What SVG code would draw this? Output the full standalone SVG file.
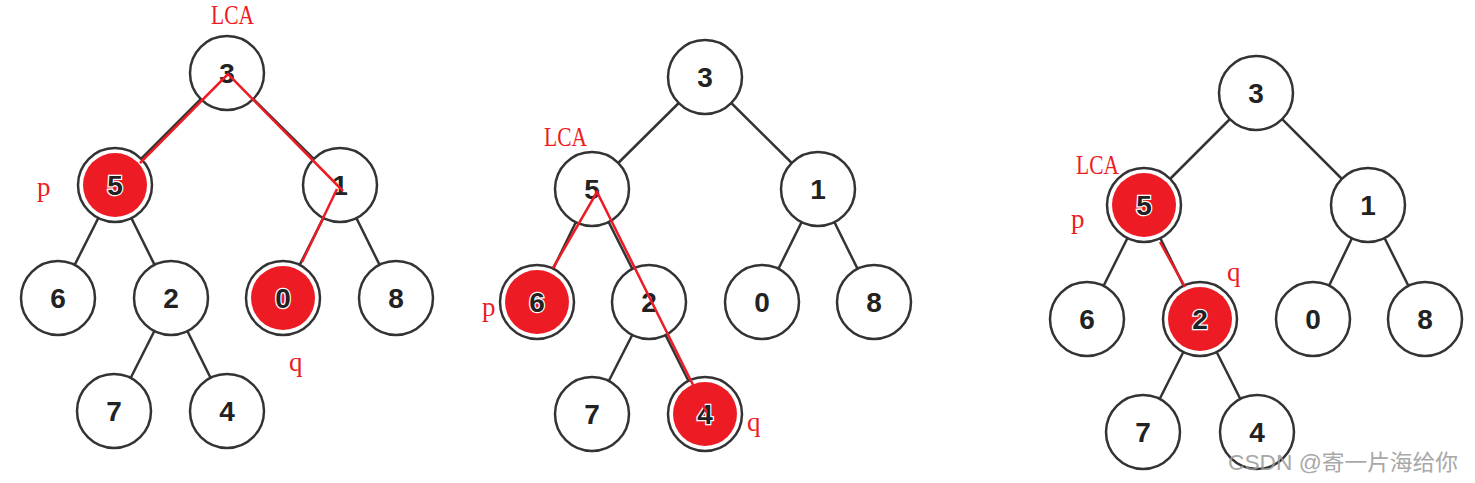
<svg xmlns="http://www.w3.org/2000/svg" width="1475" height="483" viewBox="0 0 1475 483">
<style>
.e{stroke:#333;stroke-width:2.5;fill:none}
.n{fill:#fff;stroke:#333;stroke-width:2.5}
.f{fill:#ED1C24}
.d{font-family:"Liberation Sans",Arial,sans-serif;font-size:28px;font-weight:bold;fill:#222;text-anchor:middle}
.dr{stroke:#fff;stroke-width:2.5;paint-order:stroke}
.r{stroke:#ED1C24;stroke-width:2.5;fill:none;stroke-linejoin:miter}
.l{font-family:"Liberation Serif","Times New Roman",serif;font-size:27px;fill:#ED1C24}
.lca{font-size:28px}
.w{font-family:"Liberation Sans","Noto Sans CJK SC",sans-serif;font-size:22px;fill:#999;opacity:0.85}
</style>
<rect width="1475" height="483" fill="#fff"/>
<g id="connectors">
<line class="e" x1="227" y1="73" x2="115" y2="185"/><line class="e" x1="227" y1="73" x2="340" y2="185"/>
<line class="e" x1="115" y1="185" x2="58" y2="298"/><line class="e" x1="115" y1="185" x2="171" y2="298"/>
<line class="e" x1="340" y1="185" x2="283" y2="298"/><line class="e" x1="340" y1="185" x2="396" y2="298"/>
<line class="e" x1="171" y1="298" x2="114" y2="411"/><line class="e" x1="171" y1="298" x2="227" y2="411"/>
<line class="e" x1="705" y1="77" x2="592" y2="189"/><line class="e" x1="705" y1="77" x2="818" y2="189"/>
<line class="e" x1="592" y1="189" x2="537" y2="302"/><line class="e" x1="592" y1="189" x2="649" y2="302"/>
<line class="e" x1="818" y1="189" x2="762" y2="302"/><line class="e" x1="818" y1="189" x2="874" y2="302"/>
<line class="e" x1="649" y1="302" x2="592" y2="414"/><line class="e" x1="649" y1="302" x2="705" y2="414"/>
<line class="e" x1="1256" y1="93" x2="1144" y2="205"/><line class="e" x1="1256" y1="93" x2="1368" y2="205"/>
<line class="e" x1="1144" y1="205" x2="1087" y2="319"/><line class="e" x1="1144" y1="205" x2="1200" y2="319"/>
<line class="e" x1="1368" y1="205" x2="1313" y2="319"/><line class="e" x1="1368" y1="205" x2="1425" y2="319"/>
<line class="e" x1="1200" y1="319" x2="1143" y2="432"/><line class="e" x1="1200" y1="319" x2="1257" y2="432"/>
</g>
<g id="t1-3"><circle class="n" cx="227" cy="73" r="37"/><text class="d" x="227" y="83">3</text></g>
<g id="t1-5"><circle class="n" cx="115" cy="185" r="37"/><circle class="f" cx="115" cy="185" r="32"/><text class="d dr" x="115" y="195">5</text></g>
<g id="t1-1"><circle class="n" cx="340" cy="185" r="37"/><text class="d" x="340" y="195">1</text></g>
<g id="t1-6"><circle class="n" cx="58" cy="298" r="37"/><text class="d" x="58" y="308">6</text></g>
<g id="t1-2"><circle class="n" cx="171" cy="298" r="37"/><text class="d" x="171" y="308">2</text></g>
<g id="t1-0"><circle class="n" cx="283" cy="298" r="37"/><circle class="f" cx="283" cy="298" r="32"/><text class="d dr" x="283" y="308">0</text></g>
<g id="t1-8"><circle class="n" cx="396" cy="298" r="37"/><text class="d" x="396" y="308">8</text></g>
<g id="t1-7"><circle class="n" cx="114" cy="411" r="37"/><text class="d" x="114" y="421">7</text></g>
<g id="t1-4"><circle class="n" cx="227" cy="411" r="37"/><text class="d" x="227" y="421">4</text></g>
<g id="t2-3"><circle class="n" cx="705" cy="77" r="37"/><text class="d" x="705" y="87">3</text></g>
<g id="t2-5"><circle class="n" cx="592" cy="189" r="37"/><text class="d" x="592" y="199">5</text></g>
<g id="t2-1"><circle class="n" cx="818" cy="189" r="37"/><text class="d" x="818" y="199">1</text></g>
<g id="t2-6"><circle class="n" cx="537" cy="302" r="37"/><circle class="f" cx="537" cy="302" r="32"/><text class="d dr" x="537" y="312">6</text></g>
<g id="t2-2"><circle class="n" cx="649" cy="302" r="37"/><text class="d" x="649" y="312">2</text></g>
<g id="t2-0"><circle class="n" cx="762" cy="302" r="37"/><text class="d" x="762" y="312">0</text></g>
<g id="t2-8"><circle class="n" cx="874" cy="302" r="37"/><text class="d" x="874" y="312">8</text></g>
<g id="t2-7"><circle class="n" cx="592" cy="414" r="37"/><text class="d" x="592" y="424">7</text></g>
<g id="t2-4"><circle class="n" cx="705" cy="414" r="37"/><circle class="f" cx="705" cy="414" r="32"/><text class="d dr" x="705" y="424">4</text></g>
<g id="t3-3"><circle class="n" cx="1256" cy="93" r="37"/><text class="d" x="1256" y="103">3</text></g>
<g id="t3-5"><circle class="n" cx="1144" cy="205" r="37"/><circle class="f" cx="1144" cy="205" r="32"/><text class="d dr" x="1144" y="215">5</text></g>
<g id="t3-1"><circle class="n" cx="1368" cy="205" r="37"/><text class="d" x="1368" y="215">1</text></g>
<g id="t3-6"><circle class="n" cx="1087" cy="319" r="37"/><text class="d" x="1087" y="329">6</text></g>
<g id="t3-2"><circle class="n" cx="1200" cy="319" r="37"/><circle class="f" cx="1200" cy="319" r="32"/><text class="d dr" x="1200" y="329">2</text></g>
<g id="t3-0"><circle class="n" cx="1313" cy="319" r="37"/><text class="d" x="1313" y="329">0</text></g>
<g id="t3-8"><circle class="n" cx="1425" cy="319" r="37"/><text class="d" x="1425" y="329">8</text></g>
<g id="t3-7"><circle class="n" cx="1143" cy="432" r="37"/><text class="d" x="1143" y="442">7</text></g>
<g id="t3-4"><circle class="n" cx="1257" cy="432" r="37"/><text class="d" x="1257" y="442">4</text></g>
<g id="paths">
<polyline class="r" points="140,163 228,74 343,191"/>
<line class="r" x1="302" y1="262" x2="337" y2="189"/>
<polyline class="r" points="553,268 597,192 707,413"/>
<line class="r" x1="1160" y1="242" x2="1185" y2="287"/>
</g>
<g id="labels">
<text class="l lca" x="211" y="24" textLength="43" lengthAdjust="spacingAndGlyphs">LCA</text>
<text class="l" x="37" y="196">p</text>
<text class="l" x="289" y="371">q</text>
<text class="l lca" x="544" y="146" textLength="43" lengthAdjust="spacingAndGlyphs">LCA</text>
<text class="l" x="482" y="316">p</text>
<text class="l" x="747" y="431">q</text>
<text class="l lca" x="1076" y="174" textLength="43" lengthAdjust="spacingAndGlyphs">LCA</text>
<text class="l" x="1071" y="228">p</text>
<text class="l" x="1227" y="281">q</text>
</g>
<text class="w" x="1228" y="470" textLength="230" lengthAdjust="spacingAndGlyphs">CSDN @寄一片海给你</text>
</svg>
